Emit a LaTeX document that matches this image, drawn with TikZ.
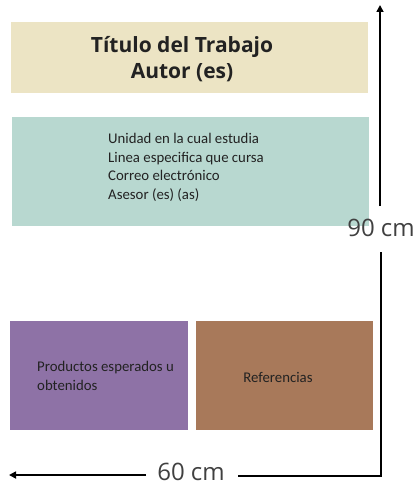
\documentclass[tikz,border=0pt]{standalone}
\usepackage{fontspec}
\setmainfont{Open Sans}
\newfontfamily\calib{Carlito}
\usetikzlibrary{arrows.meta}
\definecolor{beige}{HTML}{ECE4C4}
\definecolor{teal1}{HTML}{B8D8D0}
\definecolor{purp}{HTML}{8E72A6}
\definecolor{brown1}{HTML}{A8795A}
\definecolor{txt}{HTML}{222222}
\begin{document}
\begin{tikzpicture}[x=1pt,y=-1pt,
  panel/.style={draw=none,inner sep=0pt,outer sep=0pt},
  dimlab/.style={font=\fontsize{24}{26}\selectfont, text=black!75, inner sep=0pt},
  body/.style={font=\calib\fontsize{14.8}{18.5}\selectfont, text=txt, inner sep=0pt},
  dimline/.style={line width=1.6pt, black},
  tip/.style={-{Triangle[length=7pt,width=7pt]}}]
\useasboundingbox (0,0) rectangle (416,486);
% panels
\fill[beige] (11,22) rectangle (368,93);
\node[font=\bfseries\fontsize{21}{26.5}\selectfont, text=txt, align=center] (titletxt) at (182,59) {Título del Trabajo\\Autor (es)};
\fill[teal1] (12,117) rectangle (369,226);
\node[body, align=left, anchor=north west] (infotxt) at (108,133.5) {Unidad en la cual estudia\\Linea especifica que cursa\\Correo electrónico\\Asesor (es) (as)};
\fill[purp] (10,321) rectangle (188,430);
\node[body, align=left, anchor=west] (prod) at (37,376) {Productos esperados u\\obtenidos};
\fill[brown1] (196,321) rectangle (373,430);
\node[body] (refs) at (278,377) {Referencias};
% dimensions
\node[dimlab] (h) at (381,228) {90 cm};
\node[dimlab] (w) at (191,472) {60 cm};
\coordinate (top) at (380,5);
\coordinate (corner) at (381,476);
\coordinate (left) at (9,475);
\draw[dimline,tip] (380,206) -- (top);
\draw[dimline] (381,252) -- (corner) -- (238,476);
\draw[dimline,tip] (146,475) -- (left);
\end{tikzpicture}
\end{document}
